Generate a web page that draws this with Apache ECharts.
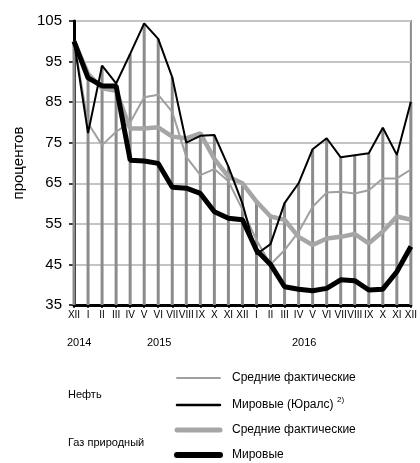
<!DOCTYPE html>
<html>
<head>
<meta charset="utf-8">
<title>Цены</title>
<style>
  html, body { margin: 0; padding: 0; background: #fff; }
  #main { width: 420px; height: 463px; }
</style>
</head>
<body>
<div id="main"></div>
<script src="https://cdn.jsdelivr.net/npm/echarts@6/dist/echarts.min.js"></script>
<script type="text/javascript">
// месяцы: XII 2014 ... XII 2016
var months = ['XII', 'I', 'II', 'III', 'IV', 'V', 'VI', 'VII', 'VIII', 'IX', 'X', 'XI',
              'XII', 'I', 'II', 'III', 'IV', 'V', 'VI', 'VII', 'VIII', 'IX', 'X', 'XI', 'XII'];
var years = ['2014', '2015', '2016'];
var yTicks = [35, 45, 55, 65, 75, 85, 95, 105];

// нефть
var oilAvg = [100, 79.8, 74.4, 77.7, 80, 86.2, 86.8, 82.6, 71.5, 67, 68.5, 65.5,
              58.5, 51, 45, 48.5, 53, 59.2, 62.7, 62.9, 62.5, 63.3, 66.2, 66.2, 68.4];
var oilUrals = [100, 77.4, 94, 89.6, 96.9, 104.4, 100.6, 91.1, 75, 76.7, 76.9, 69.1,
                60, 47.5, 50, 60.1, 65, 73.4, 76.1, 71.4, 71.9, 72.4, 78.7, 72, 85.1];
// газ природный
var gasAvg = [100, 92, 88.4, 87.8, 78.5, 78.5, 78.8, 76.5, 76.1, 77.3, 71, 66.6,
              65, 60.5, 56.8, 56, 51.8, 49.8, 51.4, 51.8, 52.5, 50.2, 53.1, 56.8, 56];
var gasWorld = [100, 91, 89, 89, 70.7, 70.5, 69.9, 64, 63.8, 62.5, 58, 56.4,
                56, 48.5, 45, 39.5, 38.9, 38.5, 39.1, 41.2, 41, 38.7, 38.9, 43.2, 49.4];

// вертикальные линии до верхней точки
var dropTop = months.map(function (m, i) {
    return Math.max(oilAvg[i], oilUrals[i], gasAvg[i], gasWorld[i]);
});

var myChart = echarts.init(document.getElementById('main'));
var font = 'Arial, "Liberation Sans", sans-serif';

var legendRows = [
    { y: 378, text: 'Средние фактические', color: '#a0a0a0', width: 2 },
    { y: 405, text: 'Мировые (Юралс)', color: '#000', width: 2.5 },
    { y: 430, text: 'Средние фактические', color: '#a6a6a6', width: 5 },
    { y: 455, text: 'Мировые', color: '#000', width: 6 }
];
var graphics = [
    { type: 'text', left: 67, top: 337, style: { text: years[0], font: '11px ' + font, fill: '#000' } },
    { type: 'text', left: 147, top: 337, style: { text: years[1], font: '11px ' + font, fill: '#000' } },
    { type: 'text', left: 292, top: 337, style: { text: years[2], font: '11px ' + font, fill: '#000' } },
    { type: 'text', left: 68, top: 389, style: { text: 'Нефть', font: '11px ' + font, fill: '#000' } },
    { type: 'text', left: 68, top: 437, style: { text: 'Газ природный', font: '11px ' + font, fill: '#000' } },
    { type: 'text', left: 337, top: 396, style: { text: '2)', font: '8px ' + font, fill: '#000' } }
];
legendRows.forEach(function (r) {
    graphics.push({
        type: 'line',
        shape: { x1: 177, y1: r.y, x2: 220, y2: r.y },
        style: { stroke: r.color, lineWidth: r.width, lineCap: 'round' }
    });
    graphics.push({
        type: 'text', left: 232, top: r.y - 6,
        style: { text: r.text, font: '12px ' + font, fill: '#000' }
    });
});

var option = {
    animation: false,
    backgroundColor: '#fff',
    grid: {
        left: 74, right: 7, top: 21, bottom: 158,
        show: true, borderColor: '#8c8c8c', borderWidth: 2
    },
    xAxis: {
        type: 'category',
        data: months,
        boundaryGap: false,
        axisLine: { lineStyle: { color: '#000', width: 3 } },
        axisTick: { show: true, length: 3, lineStyle: { color: '#000', width: 1.5 } },
        axisLabel: { interval: 0, color: '#000', fontSize: 10, fontFamily: font, margin: 5 },
        splitLine: { show: false }
    },
    yAxis: {
        type: 'value',
        min: yTicks[0], max: yTicks[yTicks.length - 1], interval: 10,
        name: 'процентов',
        nameLocation: 'middle',
        nameGap: 48,
        nameTextStyle: { color: '#000', fontSize: 15, fontFamily: font },
        axisLine: { show: true, lineStyle: { color: '#000', width: 3 } },
        axisTick: { show: true, length: 5, lineStyle: { color: '#000', width: 1.5 } },
        axisLabel: { color: '#000', fontSize: 15, fontFamily: font, margin: 12 },
        splitLine: { lineStyle: { color: '#c4c4c4', width: 2 } }
    },
    graphic: graphics,
    series: [
        {
            type: 'bar', data: dropTop, barWidth: 3, z: 1,
            itemStyle: { color: '#8c8c8c' }, silent: true
        },
        {
            name: 'Нефть средние', type: 'line', data: oilAvg, showSymbol: false, z: 3,
            lineStyle: { color: '#a0a0a0', width: 2 }
        },
        {
            name: 'Газ средние', type: 'line', data: gasAvg, showSymbol: false, z: 4,
            lineStyle: { color: '#a6a6a6', width: 4.5 }
        },
        {
            name: 'Газ мировые', type: 'line', data: gasWorld, showSymbol: false, z: 5,
            lineStyle: { color: '#000', width: 5 }
        },
        {
            name: 'Юралс', type: 'line', data: oilUrals, showSymbol: false, z: 6,
            lineStyle: { color: '#000', width: 2 }
        }
    ]
};
myChart.setOption(option);
</script>
</body>
</html>
